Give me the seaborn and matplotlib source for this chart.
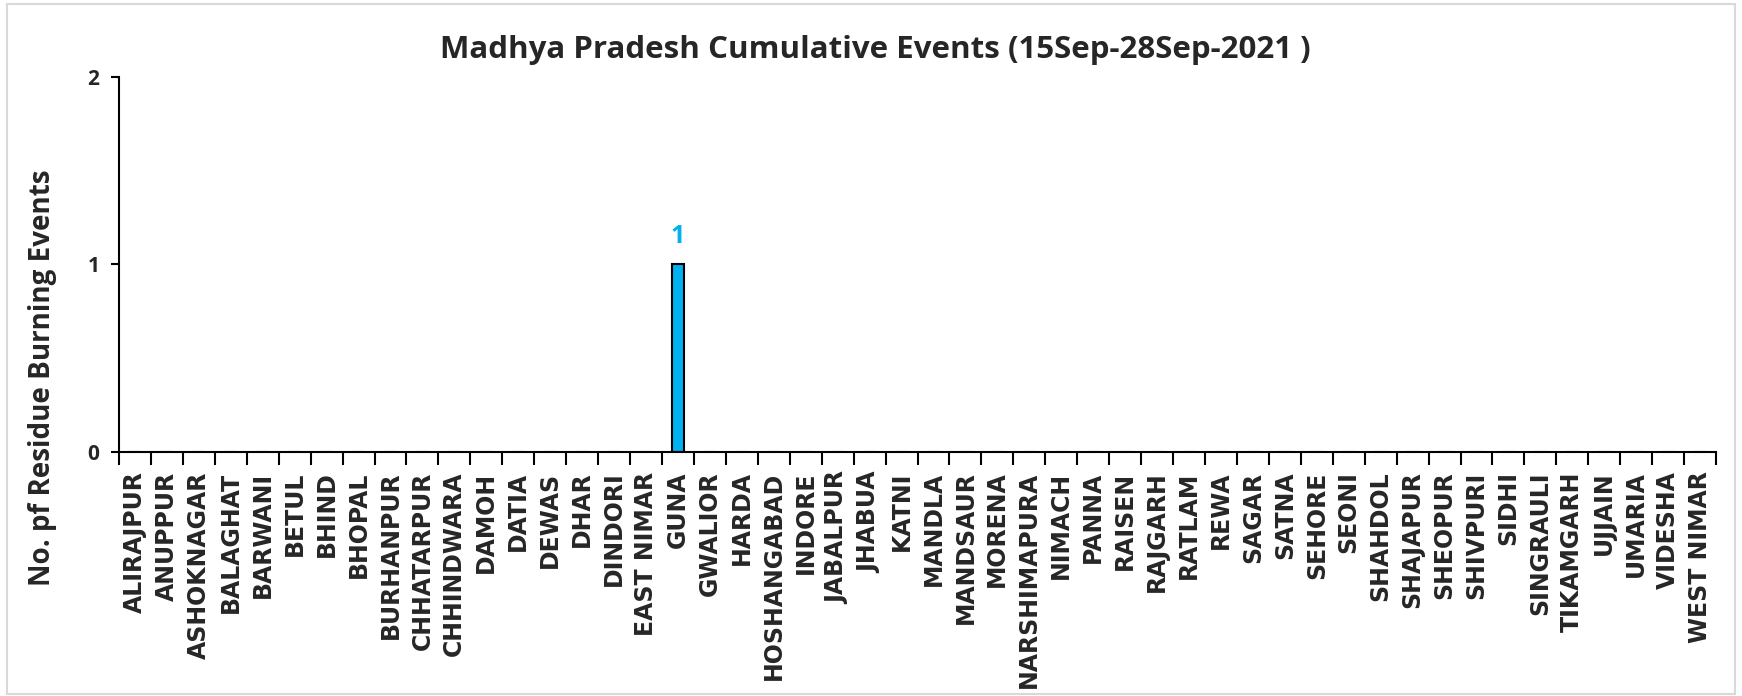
import numpy as np
import pandas as pd
import seaborn as sns
import matplotlib.pyplot as plt
from matplotlib import font_manager as fm
from matplotlib.patches import Rectangle

# districts of Madhya Pradesh and their cumulative events
districts = ["ALIRAJPUR", "ANUPPUR", "ASHOKNAGAR", "BALAGHAT", "BARWANI", "BETUL", "BHIND",
             "BHOPAL", "BURHANPUR", "CHHATARPUR", "CHHINDWARA", "DAMOH", "DATIA", "DEWAS",
             "DHAR", "DINDORI", "EAST NIMAR", "GUNA", "GWALIOR", "HARDA", "HOSHANGABAD",
             "INDORE", "JABALPUR", "JHABUA", "KATNI", "MANDLA", "MANDSAUR", "MORENA",
             "NARSHIMAPURA", "NIMACH", "PANNA", "RAISEN", "RAJGARH", "RATLAM", "REWA",
             "SAGAR", "SATNA", "SEHORE", "SEONI", "SHAHDOL", "SHAJAPUR", "SHEOPUR",
             "SHIVPURI", "SIDHI", "SINGRAULI", "TIKAMGARH", "UJJAIN", "UMARIA", "VIDESHA",
             "WEST NIMAR"]
events = [0, 0, 0, 0, 0, 0, 0, 0, 0, 0, 0, 0, 0, 0, 0, 0, 0, 1, 0, 0, 0, 0, 0, 0, 0,
          0, 0, 0, 0, 0, 0, 0, 0, 0, 0, 0, 0, 0, 0, 0, 0, 0, 0, 0, 0, 0, 0, 0, 0, 0]

df = pd.DataFrame({"district": districts, "events": events})


def bold_family(candidates):
    # first family that really has a bold face installed
    for name in candidates:
        for f in fm.fontManager.ttflist:
            w = f.weight
            if isinstance(w, str):
                w = fm.weight_dict.get(w, 400)
            if f.name == name and w >= 700:
                return name
    return "DejaVu Sans"


main_font = bold_family(["Open Sans", "Noto Sans", "Lato", "Roboto"])

sns.set_style("white")
plt.rcParams["font.family"] = [main_font, "DejaVu Sans"]

fig = plt.figure(figsize=(17.42, 6.96), dpi=100)
ax = fig.add_axes([0.0683, 0.3506, 0.9168, 0.5392])

sns.barplot(data=df, x="district", y="events", color="#00B0F0", edgecolor="black",
            linewidth=1.5, width=0.4, saturation=1, ax=ax)

# label only the non-zero bars
for p, v in zip(ax.patches, events):
    if v > 0:
        ax.annotate(str(v), (p.get_x() + p.get_width() / 2, p.get_height()),
                    xytext=(0, 11), textcoords="offset points", ha="center", va="bottom",
                    color="#00B0F0", fontsize=18, fontweight="bold")

ax.set_xlim(-0.5, len(districts) - 0.5)
ax.set_ylim(0, 2)
ax.set_yticks([0, 1, 2])
ax.set_yticklabels(["0", "1", "2"], fontsize=15, fontweight="bold")
ax.set_xticks(range(len(districts)))
ax.set_xticklabels(districts, rotation=90, fontsize=17, fontweight="bold",
                   family="DejaVu Sans")
ax.set_xticks(np.arange(-0.5, len(districts), 1), minor=True)
ax.tick_params(axis="x", which="major", bottom=False, length=0, pad=14)
ax.tick_params(axis="x", which="minor", bottom=True, length=9, width=1.5,
               direction="out", color="black")
ax.tick_params(axis="y", left=True, length=6, width=1.5, direction="out", color="black", pad=8)

for s in ["top", "right"]:
    ax.spines[s].set_visible(False)
for s in ["left", "bottom"]:
    ax.spines[s].set_color("black")
    ax.spines[s].set_linewidth(1.5)

ax.set_xlabel("")
ax.set_ylabel("No. pf Residue Burning Events", fontsize=20, fontweight="bold")
ax.yaxis.set_label_coords(-0.039, 0.197)

fig.text(0.5026, 0.928, "Madhya Pradesh Cumulative Events (15Sep-28Sep-2021 )",
         ha="center", va="center", fontsize=22.5, fontweight="bold")

# light frame around the whole chart
fig.patches.append(Rectangle((0.004, 0.003), 0.992, 0.991, transform=fig.transFigure,
                             fill=False, edgecolor="#D9D9D9", linewidth=1.5))

fig.savefig("out.png", dpi=100)
